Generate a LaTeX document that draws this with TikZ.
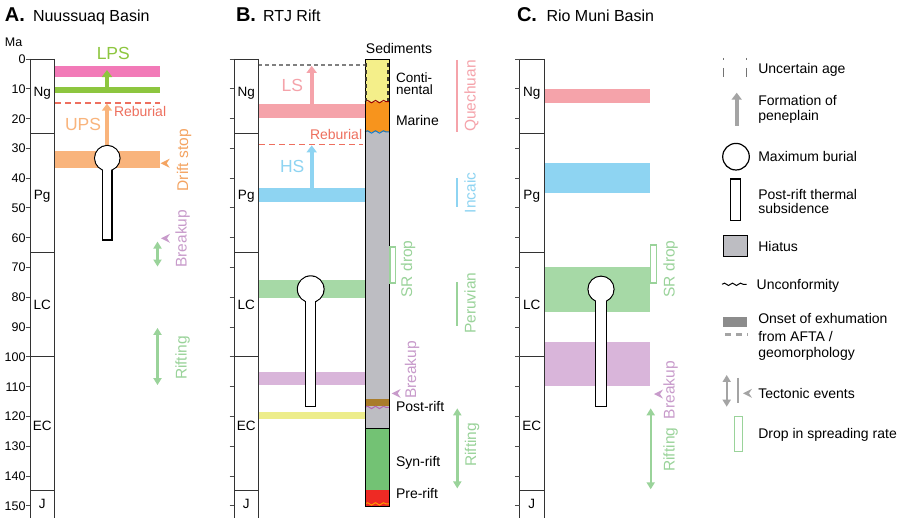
\documentclass[tikz,border=0pt]{standalone}
\usepackage{fontspec}
\setmainfont{Liberation Sans}
\usetikzlibrary{arrows.meta,decorations.pathmorphing}
\definecolor{cpinkA}{HTML}{F27AB8}
\definecolor{cgreenA}{HTML}{8DC63F}
\definecolor{corangeA}{HTML}{F9B47C}
\definecolor{creb}{HTML}{EE6F5E}
\definecolor{cdrift}{HTML}{F4A462}
\definecolor{cbreak}{HTML}{C89BCB}
\definecolor{cgreenT}{HTML}{9AD39A}
\definecolor{cpinkB}{HTML}{F5A3AA}
\definecolor{cblue}{HTML}{8ED4F2}
\definecolor{cgreenbar}{HTML}{A6D9A6}
\definecolor{cpurplebar}{HTML}{D9B5DA}
\definecolor{cyellowbar}{HTML}{EDED8B}
\definecolor{chiatus}{HTML}{BDBDC2}
\definecolor{ccont}{HTML}{F4EF8A}
\definecolor{cmarine}{HTML}{F7941D}
\definecolor{cpost}{HTML}{A97C2A}
\definecolor{csyn}{HTML}{73C274}
\definecolor{cpre}{HTML}{EE2A24}
\definecolor{clegray}{HTML}{A4A4A4}
\newcommand\myfs[1]{\fontsize{#1pt}{#1pt}\selectfont}
% geological time column: #1 = left x, #2 = name prefix
\newcommand\geocol[2]{%
  \draw[colline] (#1,0) -- (#1,155);
  \draw[colline] ({#1+24.5},0) -- ({#1+24.5},155);
  \foreach \tt in {0,25,65,100,145} \draw[colline] (#1,\tt) -- ({#1+24.5},\tt);
  \foreach \tt in {0,10,...,150} \draw[tickline] ({#1-4.5},\tt) -- (#1,\tt);
  \node[era] (#2Ng) at ({#1+12.25},12.6) {Ng};
  \node[era] (#2Pg) at ({#1+12.25},47.3) {Pg};
  \node[era] (#2LC) at ({#1+12.25},84) {LC};
  \node[era] (#2EC) at ({#1+12.25},124.8) {EC};
  \node[era] (#2J) at ({#1+12.25},150.9) {J};
}
% lollipop: #1 cx, #2 cy (Ma), #3 r (pt), #4 half width, #5 bottom (Ma), #6 inner radius (pt)
\newcommand\lolli[6]{%
  \draw[line width=1.2pt, fill=white] ({#1-#4},#5) rectangle ({#1+#4},#2);
  \draw[line width=1.2pt, fill=white] (#1,#2) circle[radius=#3pt];
  \fill[white] ({#1-#4+0.6},{#5-0.2}) rectangle ({#1+#4-0.6},#2);
  \fill[white] (#1,#2) circle[radius=#6pt];
}
\newcommand\chev[3]{\fill[#1] (#2,#3) -- ++(9pt,4.5pt) -- ++(-3pt,-4.5pt) -- ++(3pt,-4.5pt) -- cycle;}
\begin{document}
\begin{tikzpicture}[x=1pt,y=-1pt,
  every node/.style={inner sep=0pt, outer sep=0pt},
  colline/.style={draw=black!80, line width=0.9pt},
  tickline/.style={draw=black!70, line width=0.8pt},
  era/.style={anchor=base, font=\myfs{13.5}},
  ticklbl/.style={anchor=base east, font=\myfs{12.5}},
  rot/.style={rotate=90, anchor=base, font=\myfs{15.5}},
  big/.style={anchor=base west, font=\myfs{17.5}},
  small/.style={anchor=base west, font=\myfs{14}},
  sed/.style={anchor=base west, font=\myfs{14}},
  leg/.style={anchor=base west, font=\myfs{14}},
  dblarrow/.style={draw=cgreenT, line width=2.4pt, {Triangle[length=7pt,width=8pt]}-{Triangle[length=7pt,width=8pt]}},
  penarrow/.style={line width=4pt, -{Triangle[length=7pt,width=10pt]}},
  rebline/.style={draw=creb, line width=1.2pt, dash pattern=on 6pt off 4pt},
  wave/.style={decorate, decoration={snake, segment length=8pt, amplitude=1.2pt}, line width=1pt},
  title/.style={anchor=base west, font=\myfs{20}\bfseries},
  subtitle/.style={anchor=base west, font=\myfs{16}}
]
\useasboundingbox (0,0) rectangle (900,518);
\fill[white] (0,0) rectangle (900,518);
% titles
\node[title] (tA) at (5,21.7) {A.};
\node[subtitle] (tA2) at (33,21.7) {Nuussuaq Basin};
\node[title] (tB) at (236,21.7) {B.};
\node[subtitle] (tB2) at (263,21.7) {RTJ Rift};
\node[title] (tC) at (517,21.7) {C.};
\node[subtitle] (tC2) at (546.5,21.7) {Rio Muni Basin};

\begin{scope}[yshift=-59pt, y=-2.978pt]
% ---------------- Panel A ----------------
\fill[cpinkA] (55,2.25) rectangle (160,6.1);
\fill[cgreenA] (55,9.3) rectangle (160,11.3);
\fill[corangeA] (55,30.8) rectangle (160,36.5);
\draw[rebline] (55,14.8) -- (160,14.8);
\draw[penarrow, cgreenA] (107,9.5) -- (107,3.7);
\draw[penarrow, corangeA] (107,31) -- (107,15.0);
\lolli{107.3}{33.3}{12.7}{4.7}{60.8}{12.1}
\geocol{30}{A}
\foreach \tt in {0,10,...,150} \node[ticklbl] (tkA\tt) at (25.5,{\tt+1.5}) {\tt};
\node[anchor=base west, font=\myfs{12.5}] (maA) at (5,-4.1) {Ma};
\node[anchor=base, font=\myfs{17.5}, text=cgreenA] (lps) at (113.3,0.1) {LPS};
\node[big, text=corangeA] (ups) at (65,24.1) {UPS};
\node[small, text=creb] (rebA) at (114,19.4) {Reburial};
\node[rot, text=cdrift] (drift) at (188,34) {Drift stop};
\chev{cdrift}{160.7}{35}
\node[rot, text=cbreak] (brkA) at (186.5,60.4) {Breakup};
\chev{cbreak}{161}{60.2}
\draw[dblarrow] (157.5,61.3) -- (157.5,69.7);
\draw[dblarrow] (157.5,90.3) -- (157.5,109.5);
\node[rot, text=cgreenT] (riftA) at (186.5,100.4) {Rifting};

% ---------------- Panel B ----------------
\fill[cpinkB] (258,15.1) rectangle (365,19.9);
\fill[cblue] (258,43.4) rectangle (365,47.9);
\fill[cgreenbar] (258,74.2) rectangle (365,80.4);
\fill[cpurplebar] (258,105) rectangle (365,109.5);
\fill[cyellowbar] (258,118.7) rectangle (365,121);
\draw[draw=black!50, line width=1.5pt, dash pattern=on 4pt off 3pt] (258,2) -- (365,2);
\draw[rebline] (259,28.6) -- (363,28.6);
\draw[penarrow, cpinkB] (311.7,15.1) -- (311.7,2.3);
\draw[penarrow, cblue] (311.7,43.4) -- (311.7,29.0);
\lolli{310.7}{77.3}{13.3}{5}{116.7}{12.7}
\geocol{234}{B}
\node[big, text=cpinkB] (ls) at (281.7,11) {LS};
\node[big, text=cblue] (hs) at (280,38) {HS};
\node[small, text=creb] (rebB) at (310,27.2) {Reburial};
% sediment column
\fill[ccont] (365,0) rectangle (389,14.3);
\fill[cmarine] (365,14.3) rectangle (389,24.5);
\fill[chiatus] (365,24.5) rectangle (389,124);
\fill[cpost] (365,114.2) rectangle (389,116.4);
\fill[csyn] (365,124) rectangle (389,144.7);
\fill[cpre] (365,144.7) rectangle (389,150.3);
\draw[wave, draw=red!60!black] (365,14.3) -- (389,14.3);
\draw[wave, draw=cyan!60!blue] (365,24.5) -- (389,24.5);
\draw[wave, draw=violet!60] (365,117) -- (389,117);
\draw[wave, draw=orange!80!yellow] (365,149.4) -- (389,149.4);
\draw[line width=0.9pt] (365,124) -- (389,124);
\draw[line width=0.9pt] (365,0) rectangle (389,150.3);
\draw[draw=black!75!olive, line width=1.6pt, dash pattern=on 4pt off 3pt] (365.8,1.5) -- (365.8,14);
\draw[draw=black!75!olive, line width=1.6pt, dash pattern=on 4pt off 3pt] (388.2,1.5) -- (388.2,14);
\node[anchor=base, font=\myfs{14}] (sedt) at (399,-1.9) {Sediments};
\node[anchor=north west, align=left, font=\fontsize{13.5pt}{11.5pt}\selectfont] (cont) at (396,4.65) {Conti-\\nental};
\node[sed] (mar) at (396,22.2) {Marine};
\node[sed] (post) at (396,118.4) {Post-rift};
\node[sed] (syn) at (396,136.9) {Syn-rift};
\node[sed] (pre) at (396,147.5) {Pre-rift};
% events B
\draw[draw=cgreenT, line width=1.5pt] (389.8,63.1) rectangle (395.5,75.3);
\node[rot, text=cgreenT] (srB) at (412,70.5) {SR drop};
\node[rot, text=cbreak] (brkB) at (416,104.4) {Breakup};
\chev{cbreak}{391.7}{112.3}
\draw[draw=cpinkB, line width=2pt] (457.3,0.3) -- (457.3,24.6);
\node[rot, text=cpinkB] (que) at (475.5,12.4) {Quechuan};
\draw[draw=cblue, line width=2pt] (457.3,40) -- (457.3,49.8);
\node[rot, text=cblue] (inc) at (475.5,45) {Incaic};
\draw[draw=cgreenT, line width=2pt] (457.3,75) -- (457.3,89.7);
\node[rot, text=cgreenT] (per) at (475.5,82) {Peruvian};
\draw[dblarrow] (457.3,117.3) -- (457.3,144.2);
\node[rot, text=cgreenT] (riftB) at (476,129.6) {Rifting};

% ---------------- Panel C ----------------
\fill[cpinkB] (544,10) rectangle (650,14.9);
\fill[cblue] (544,35) rectangle (650,45);
\fill[cgreenbar] (544,70) rectangle (650,84.9);
\fill[cpurplebar] (544,95) rectangle (650,109.7);
\lolli{601}{77.3}{13}{5.2}{116.7}{12.4}
\geocol{519.5}{C}
\draw[draw=cgreenT, line width=1.5pt] (650.5,62.5) rectangle (656.5,75.3);
\node[rot, text=cgreenT] (srC) at (674.5,70.5) {SR drop};
\node[rot, text=cbreak] (brkC) at (674.5,111.2) {Breakup};
\chev{cbreak}{654}{112.5}
\draw[dblarrow] (650.7,117.3) -- (650.7,144.5);
\node[rot, text=cgreenT] (riftC) at (674.5,131.2) {Rifting};
\end{scope}

% ---------------- Legend ----------------
\draw[draw=black!55, line width=1.3pt, dash pattern=on 2pt off 8pt on 10pt off 10pt] (723.3,58) -- (723.3,77.3);
\draw[draw=black!55, line width=1.3pt, dash pattern=on 2pt off 8pt on 10pt off 10pt] (746.7,58) -- (746.7,77.3);
\node[leg] (l1) at (758.3,74) {Uncertain age};
\draw[penarrow, clegray] (736.7,126) -- (736.7,92.7);
\node[leg] (l2a) at (758.3,105.7) {Formation of};
\node[leg] (l2b) at (758.3,120.7) {peneplain};
\draw[line width=1.2pt, fill=white] (736,156.7) circle[radius=13.3pt];
\node[leg] (l3) at (758.3,161.7) {Maximum burial};
\draw[line width=1.2pt, fill=white] (730.7,179) rectangle (740.7,220.7);
\node[leg] (l4a) at (758.3,199.3) {Post-rift thermal};
\node[leg] (l4b) at (758.3,214) {subsidence};
\draw[line width=0.9pt, fill=chiatus] (723.3,235.7) rectangle (747.3,256);
\node[leg] (l5) at (758.3,251.7) {Hiatus};
\draw[wave] (722,284.3) -- (746.7,284.3);
\node[leg] (l6) at (756.7,289.3) {Unconformity};
\fill[black!45] (723.3,316.7) rectangle (747.3,326.7);
\draw[draw=clegray, line width=2.5pt, dash pattern=on 6pt off 5pt] (725,334.3) -- (748,334.3);
\node[leg] (l7a) at (758.3,324) {Onset of exhumation};
\node[leg] (l7b) at (758.3,341.7) {from AFTA /};
\node[leg] (l7c) at (758.3,357.8) {geomorphology};
\draw[draw=clegray, line width=2.4pt, {Triangle[length=7pt,width=8pt]}-{Triangle[length=7pt,width=8pt]}] (726.7,375) -- (726.7,406.7);
\draw[draw=clegray, line width=2.4pt] (737.7,378) -- (737.7,403);
\chev{clegray}{743}{393.3}
\node[leg] (l8) at (758.3,398.3) {Tectonic events};
\draw[draw=cgreenT, line width=1.5pt] (734.3,416.7) rectangle (742.3,451.7);
\node[leg] (l9) at (758.3,438.3) {Drop in spreading rate};
\end{tikzpicture}
\end{document}
